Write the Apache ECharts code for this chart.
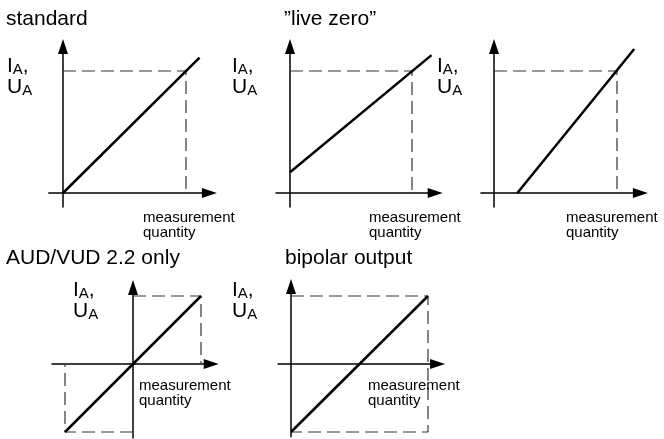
<!DOCTYPE html>
<html>
<head>
<meta charset="utf-8">
<script src="https://cdn.jsdelivr.net/npm/echarts@6/dist/echarts.min.js"></script>
<style>
  html, body { margin: 0; padding: 0; background: #fff; }
  #chart { width: 664px; height: 439px; }
</style>
</head>
<body>
<div id="chart"></div>
<script>
// panel titles
var titles = ['standard', '\u201Dlive zero\u201D', '', 'AUD/VUD 2.2 only', 'bipolar output'];

// output characteristic (measurement quantity -> I_A, U_A), relative units
var lineStandard = [[0, 0], [1.11, 1.11]];
var lineLiveZero = [[0, 0.17], [1.16, 1.13]];
var lineOffset = [[0.19, 0], [1.14, 1.18]];
var lineAud = [[-1, -1], [1, 1]];
var lineBipolar = [[0, -1], [1, 1]];

// dashed full scale guides
var guideStandard = [[0, 1], [1, 1], [1, 0]];
var guideLiveZero = [[0, 1], [1, 1], [1, 0]];
var guideOffset = [[0, 1], [1, 1], [1, 0]];
var guideAudPos = [[0, 1], [1, 1], [1, 0]];
var guideAudNeg = [[0, -1], [-1, -1], [-1, 0]];
var guideBipolar = [[0, 1], [1, 1], [1, -1], [0, -1]];

// axis ranges per panel
var xRanges = [[-0.115, 1.19], [-0.115, 1.19], [-0.106, 1.19], [-1.19, 1.15], [-0.095, 1.07]];
var yRanges = [[-0.115, 1.2], [-0.115, 1.2], [-0.115, 1.2], [-1.088, 1.125], [-1.07, 1.14]];

// pixel origin and scale of each panel (layout)
var panels = [
  { ox: 63, oy: 193, sx: 123, sy: 122 },
  { ox: 290, oy: 193, sx: 122, sy: 122 },
  { ox: 494, oy: 193, sx: 123, sy: 122 },
  { ox: 133, oy: 364, sx: 68, sy: 68 },
  { ox: 291, oy: 364, sx: 137, sy: 68 }
];

var font = 'Liberation Sans, Arial, Helvetica, sans-serif';

var grids = [], xAxes = [], yAxes = [];
panels.forEach(function (p, i) {
  var xr = xRanges[i], yr = yRanges[i];
  grids.push({
    left: p.ox + xr[0] * p.sx,
    top: p.oy - yr[1] * p.sy,
    width: (xr[1] - xr[0]) * p.sx,
    height: (yr[1] - yr[0]) * p.sy
  });
  var axisLine = {
    show: true, onZero: true,
    symbol: ['none', 'triangle'], symbolSize: [10, 15],
    lineStyle: { color: '#000', width: 1.5 }
  };
  xAxes.push({
    gridIndex: i, type: 'value', min: xr[0], max: xr[1],
    axisLine: axisLine, axisTick: { show: false },
    axisLabel: { show: false }, splitLine: { show: false }
  });
  yAxes.push({
    gridIndex: i, type: 'value', min: yr[0], max: yr[1],
    axisLine: axisLine, axisTick: { show: false },
    axisLabel: { show: false }, splitLine: { show: false }
  });
});

function solid(i, data) {
  return {
    type: 'line', xAxisIndex: i, yAxisIndex: i, data: data,
    showSymbol: false, clip: false, silent: true, z: 3,
    lineStyle: { color: '#000', width: 2.5 }
  };
}
function dashed(i, data) {
  return {
    type: 'line', xAxisIndex: i, yAxisIndex: i, data: data,
    showSymbol: false, clip: false, silent: true, z: 2,
    lineStyle: { color: '#333', width: 1.2, type: [13, 6] }
  };
}

var series = [
  dashed(0, guideStandard), solid(0, lineStandard),
  dashed(1, guideLiveZero), solid(1, lineLiveZero),
  dashed(2, guideOffset), solid(2, lineOffset),
  dashed(3, guideAudPos), dashed(3, guideAudNeg), solid(3, lineAud),
  dashed(4, guideBipolar), solid(4, lineBipolar)
];

var headStyle = { fontFamily: font, fontSize: 21, fontWeight: 'normal', color: '#000' };
var smallStyle = { fontFamily: font, fontSize: 15, fontWeight: 'normal', color: '#000', lineHeight: 15 };
var yNameStyle = {
  fontFamily: font, fontWeight: 'normal', color: '#000',
  rich: {
    m: { fontFamily: font, fontSize: 21, lineHeight: 21, verticalAlign: 'top', color: '#000' },
    s: { fontFamily: font, fontSize: 15, lineHeight: 15, verticalAlign: 'bottom', padding: [10, 0, 0, 0], color: '#000' }
  }
};
var yName = '{m|I}{s|A}{m|,}\n{m|U}{s|A}';
var xName = 'measurement\nquantity';

var titleList = [
  { text: titles[0], left: 6, top: 9, textStyle: headStyle },
  { text: titles[1], left: 284, top: 9, textStyle: headStyle },
  { text: titles[3], left: 6, top: 248, textStyle: headStyle },
  { text: titles[4], left: 285, top: 248, textStyle: headStyle },
  { text: yName, left: 7, top: 56, textStyle: yNameStyle },
  { text: yName, left: 232, top: 56, textStyle: yNameStyle },
  { text: yName, left: 437, top: 56, textStyle: yNameStyle },
  { text: yName, left: 73, top: 280, textStyle: yNameStyle },
  { text: yName, left: 232, top: 280, textStyle: yNameStyle },
  { text: xName, left: 143, top: 210, textStyle: smallStyle },
  { text: xName, left: 369, top: 210, textStyle: smallStyle },
  { text: xName, left: 566, top: 210, textStyle: smallStyle },
  { text: xName, left: 139, top: 378, textStyle: smallStyle },
  { text: xName, left: 368, top: 378, textStyle: smallStyle }
];
titleList.forEach(function (t) { t.padding = 0; });

var myChart = echarts.init(document.getElementById('chart'));
var option = {
  backgroundColor: '#fff',
  animation: false,
  title: titleList,
  grid: grids,
  xAxis: xAxes,
  yAxis: yAxes,
  series: series
};
myChart.setOption(option);
</script>
</body>
</html>
